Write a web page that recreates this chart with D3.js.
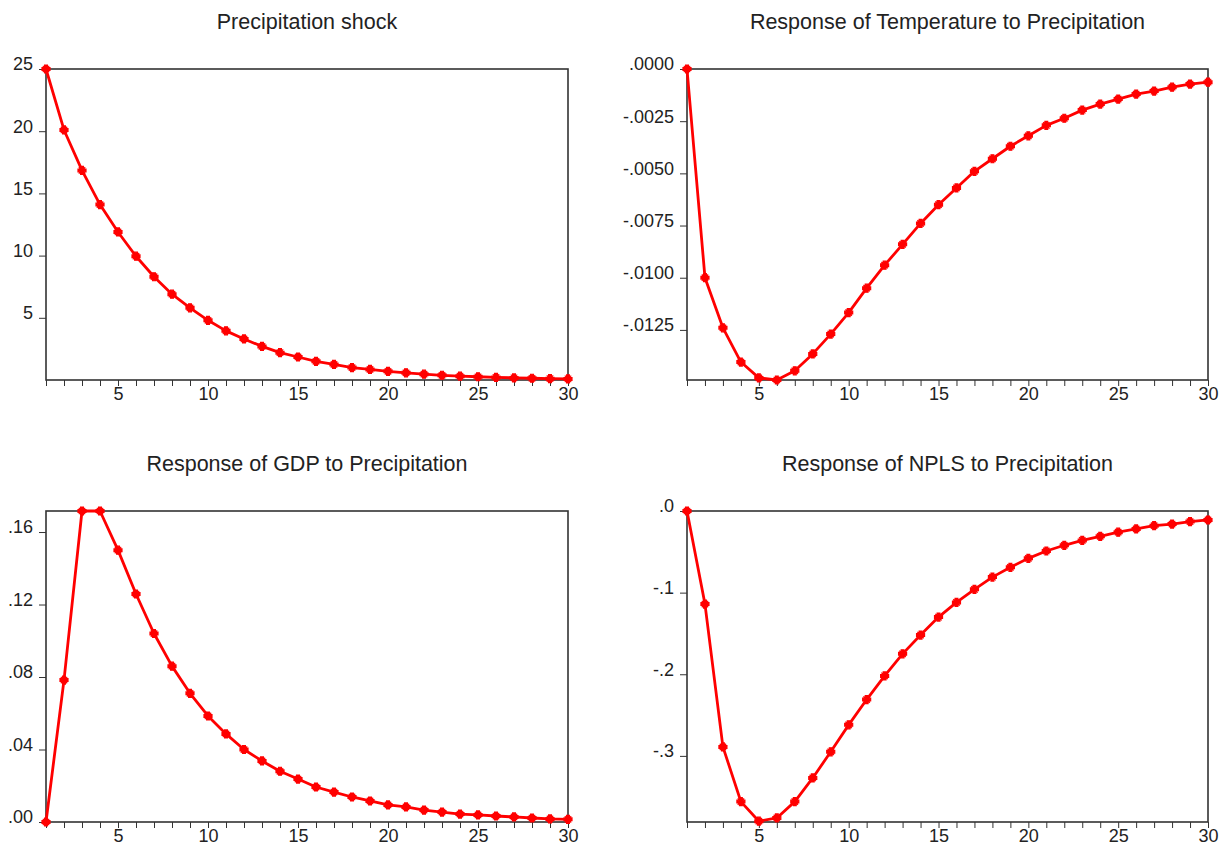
<!DOCTYPE html>
<html>
<head>
<meta charset="utf-8">
<script src="https://cdn.jsdelivr.net/npm/d3@7"></script>
<style>
  body { margin: 0; background: #fff; }
  text { font-family: "Liberation Sans", Arial, sans-serif; fill: #222; }
</style>
</head>
<body>
<div id="chart"></div>
<script>
const periods = d3.range(1, 31);

const precipShock = [25, 20.1, 16.85, 14.1, 11.9, 9.95, 8.3, 6.9, 5.8, 4.8,
  3.95, 3.3, 2.7, 2.2, 1.85, 1.5, 1.25, 1.0, 0.85, 0.7,
  0.58, 0.47, 0.38, 0.31, 0.26, 0.21, 0.17, 0.14, 0.11, 0.09];

const tempResp = [0, -0.0100, -0.0124, -0.01404, -0.0148, -0.0149, -0.01446, -0.01365, -0.0127, -0.01167,
  -0.0105, -0.0094, -0.0084, -0.0074, -0.0065, -0.0057, -0.0049, -0.0043, -0.0037, -0.0032,
  -0.0027, -0.00236, -0.00197, -0.00168, -0.00144, -0.0012, -0.00106, -0.00087, -0.00072, -0.00063];

const gdpResp = [0, 0.0783, 0.1716, 0.1716, 0.150, 0.1258, 0.104, 0.086, 0.071, 0.0585,
  0.0486, 0.040, 0.0337, 0.028, 0.0237, 0.0193, 0.0165, 0.0138, 0.0116, 0.0094,
  0.0083, 0.0066, 0.0055, 0.0044, 0.0039, 0.0033, 0.0028, 0.0022, 0.0017, 0.0015];

const nplsResp = [0, -0.114, -0.289, -0.356, -0.380, -0.376, -0.356, -0.327, -0.295, -0.262,
  -0.231, -0.202, -0.175, -0.152, -0.130, -0.112, -0.096, -0.081, -0.069, -0.058,
  -0.049, -0.042, -0.036, -0.031, -0.026, -0.022, -0.018, -0.016, -0.013, -0.011];

const xTicks = [5, 10, 15, 20, 25, 30];

const panels = [
  { title: "Precipitation shock", values: precipShock, domain: [0, 25],
    ticks: [5, 10, 15, 20, 25], labels: ["5", "10", "15", "20", "25"],
    left: 46, right: 568, top: 69, bottom: 380 },
  { title: "Response of Temperature to Precipitation", values: tempResp, domain: [-0.0149, 0],
    ticks: [-0.0125, -0.01, -0.0075, -0.005, -0.0025, 0],
    labels: ["-.0125", "-.0100", "-.0075", "-.0050", "-.0025", ".0000"],
    left: 687, right: 1208, top: 69, bottom: 380 },
  { title: "Response of GDP to Precipitation", values: gdpResp, domain: [0, 0.1716],
    ticks: [0, 0.04, 0.08, 0.12, 0.16], labels: [".00", ".04", ".08", ".12", ".16"],
    left: 46, right: 568, top: 511, bottom: 822 },
  { title: "Response of NPLS to Precipitation", values: nplsResp, domain: [-0.381, 0],
    ticks: [-0.3, -0.2, -0.1, 0], labels: ["-.3", "-.2", "-.1", ".0"],
    left: 687, right: 1208, top: 511, bottom: 822 }
];

const svg = d3.select("#chart").append("svg")
  .attr("width", 1219)
  .attr("height", 848);

// small asterisk marker
const marker = "M-4,-1.4H4V1.4H-4Z M-1.4,-4H1.4V4H-1.4Z M-3.2,-3.2L3.2,3.2 M3.2,-3.2L-3.2,3.2";

panels.forEach((p, i) => {
  const x = d3.scaleLinear().domain([1, 30]).range([p.left, p.right]);
  const y = d3.scaleLinear().domain(p.domain).range([p.bottom, p.top]);
  const g = svg.append("g");

  g.append("text")
    .attr("x", (p.left + p.right) / 2)
    .attr("y", p.top - 40)
    .attr("text-anchor", "middle")
    .attr("font-size", 21.5)
    .text(p.title);

  const yAxis = d3.axisLeft(y)
    .tickValues(p.ticks)
    .tickFormat((d, k) => p.labels[k])
    .tickSize(7)
    .tickPadding(6);
  const ya = g.append("g")
    .attr("transform", `translate(${p.left},0)`)
    .call(yAxis);
  ya.select(".domain").remove();
  ya.selectAll("text").attr("font-size", 18).attr("dy", "0.05em");
  ya.selectAll("line").attr("stroke", "#333");

  const xAxis = d3.axisBottom(x)
    .tickValues(periods)
    .tickFormat(d => xTicks.includes(d) ? d : "")
    .tickSize(6)
    .tickPadding(3);
  const xa = g.append("g")
    .attr("transform", `translate(0,${p.bottom})`)
    .call(xAxis);
  xa.select(".domain").remove();
  xa.selectAll("text").attr("font-size", 18).attr("dy", "0.62em");
  xa.selectAll("line").attr("stroke", "#333");

  g.append("rect")
    .attr("x", p.left)
    .attr("y", p.top)
    .attr("width", p.right - p.left)
    .attr("height", p.bottom - p.top)
    .attr("fill", "none")
    .attr("stroke", "#333")
    .attr("stroke-width", 1.6);

  const data = periods.map((t, k) => ({ t, v: p.values[k] }));

  g.append("path")
    .datum(data)
    .attr("fill", "none")
    .attr("stroke", "#ff0000")
    .attr("stroke-width", 2.8)
    .attr("stroke-linejoin", "round")
    .attr("d", d3.line().x(d => x(d.t)).y(d => y(d.v)));

  g.selectAll(".pt")
    .data(data)
    .join("path")
    .attr("class", "pt")
    .attr("transform", d => `translate(${x(d.t)},${y(d.v)})`)
    .attr("d", marker)
    .attr("fill", "#ff0000")
    .attr("stroke", "#ff0000")
    .attr("stroke-width", 1.2);
});
</script>
</body>
</html>
